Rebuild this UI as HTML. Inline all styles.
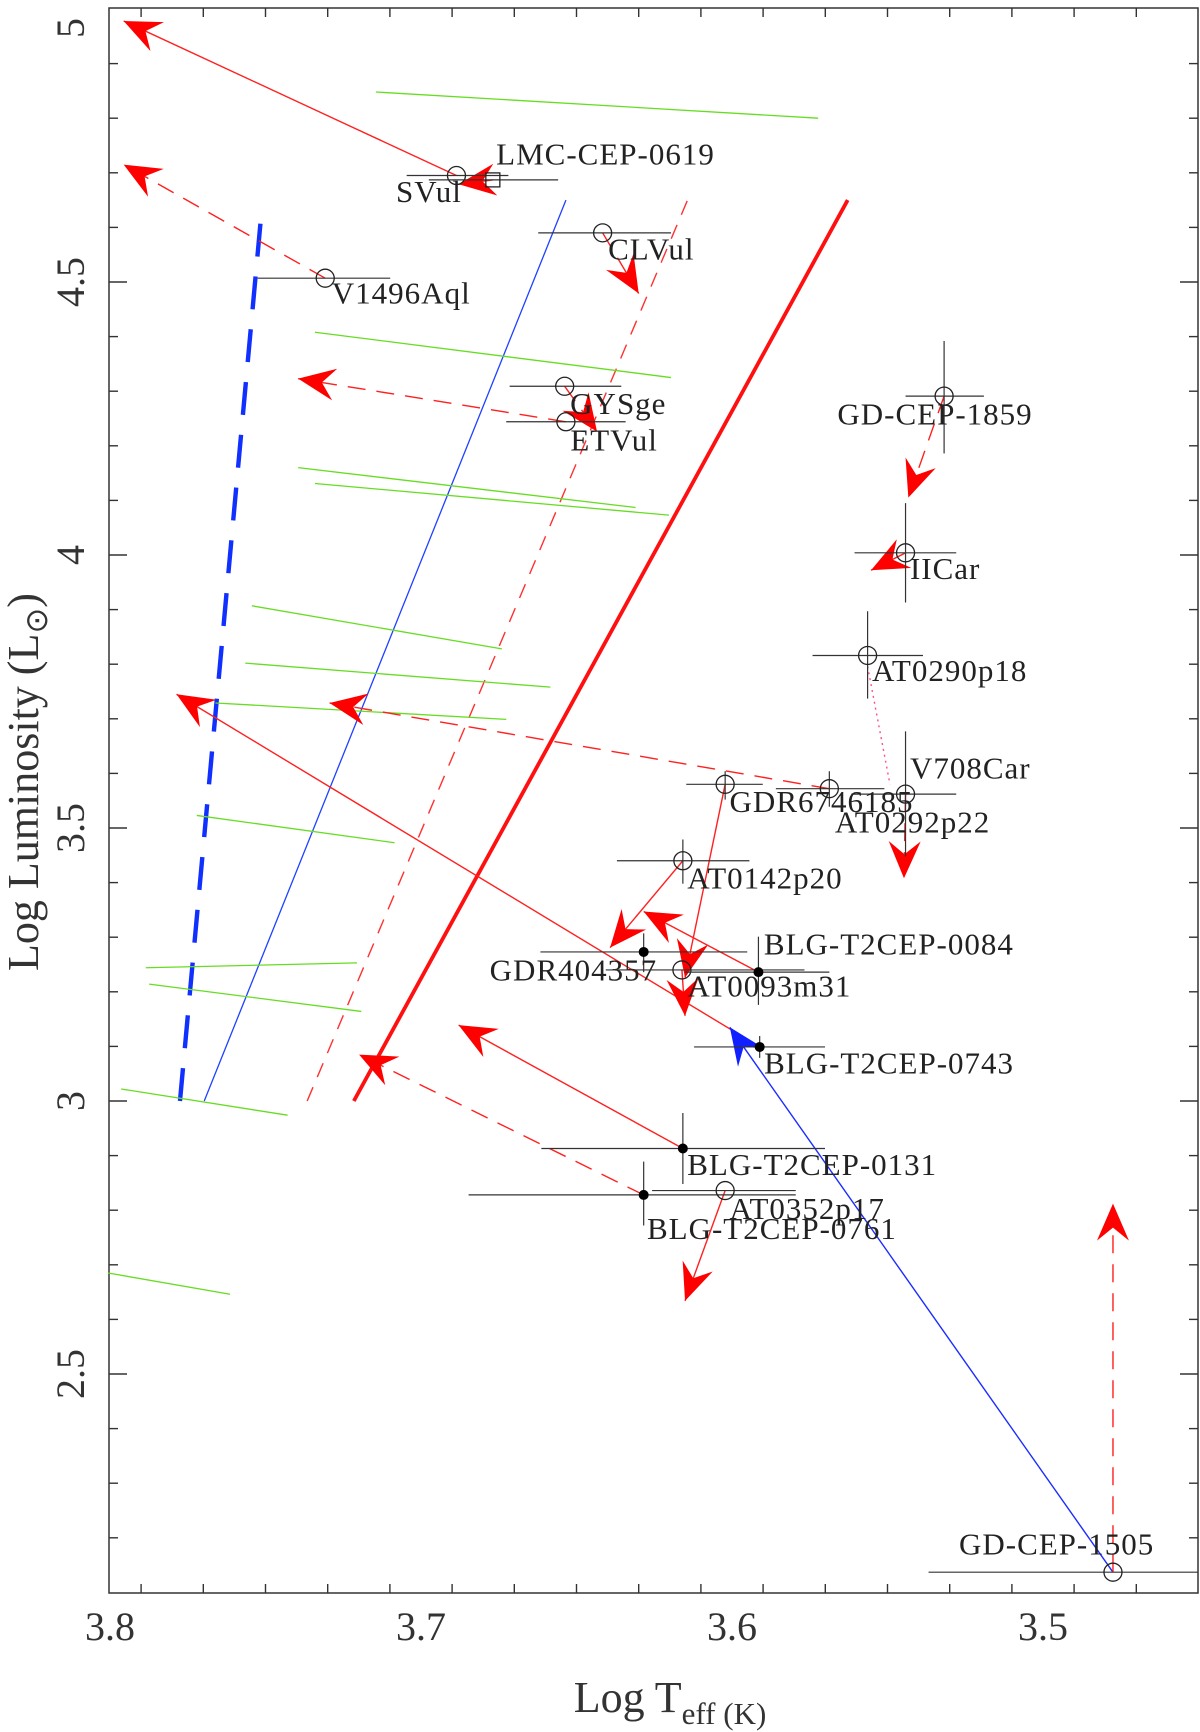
<!DOCTYPE html>
<html><head><meta charset="utf-8">
<style>
html,body{margin:0;padding:0;background:#fff;}
svg{display:block;font-family:"Liberation Serif",serif;}
.lab{font-family:"Liberation Serif",serif;font-size:31px;letter-spacing:1px;fill:#222;}
</style></head>
<body>
<svg id="chart" width="1200" height="1732" viewBox="0 0 1200 1732" xmlns="http://www.w3.org/2000/svg">
<rect x="109" y="8" width="1089" height="1585" fill="#fff" stroke="#333" stroke-width="1.5"/>
<g id="g-marks"></g><g id="g-axes"></g>
<text x="670" y="1712" font-size="44" text-anchor="middle" fill="#333">Log T<tspan dy="12" font-size="31">eff (K)</tspan></text>
<text transform="translate(38,782) rotate(-90)" font-size="44" text-anchor="middle" fill="#333">Log Luminosity (L<tspan font-size="31" dy="9">⊙</tspan><tspan dy="-9">)</tspan></text>
</svg>
<script>
const NS = "http://www.w3.org/2000/svg";
const xTicks = [3.8, 3.7, 3.6, 3.5];
const yTicks = [2.5, 3, 3.5, 4, 4.5, 5];
const xTickLabels = ["3.8", "3.7", "3.6", "3.5"];
const yTickLabels = ["2.5", "3", "3.5", "4", "4.5", "5"];
function X(t){ return 110 + (3.8 - t) * 3110; }
function Y(l){ return 555 + (4 - l) * 546; }
const pL = 109, pR = 1198, pT = 8, pB = 1593;
const K = 1.1;

const stripLines = [
 [3.7775,3.0,3.7511,4.640],
 [3.7697,3.0,3.6534,4.650],
 [3.7366,3.0,3.6143,4.650],
 [3.7216,3.0,3.5628,4.650]];
const stripStyles = [["#1030ff",4.4,"33,20"],["#2040ff",1.3,"none"],["#ff3030",1.4,"15,11"],["#ff1010",3.8,"none"]];
const greenTracks = [
 [3.7145,4.848,3.5723,4.800],[3.7341,4.408,3.6196,4.325],[3.7395,4.160,3.6310,4.087],
 [3.7341,4.131,3.6203,4.073],[3.7544,3.907,3.6740,3.828],[3.7565,3.802,3.6584,3.758],
 [3.7661,3.729,3.6726,3.699],[3.7721,3.523,3.7085,3.473],[3.7885,3.244,3.7206,3.253],
 [3.7874,3.214,3.7192,3.164],[3.7964,3.022,3.7429,2.974],[3.8006,2.685,3.7614,2.646]];
const starNames = ["SVul","LMC-CEP-0619","CLVul","V1496Aql","GYSge","ETVul","GD-CEP-1859","IICar","AT0290p18","V708Car","GDR6746185","AT0292p22","AT0142p20","GDR404357","AT0093m31","BLG-T2CEP-0084","BLG-T2CEP-0743","BLG-T2CEP-0131","BLG-T2CEP-0761","AT0352p17","GD-CEP-1505"];
const starT = [3.6886,3.6769,3.6416,3.7308,3.6538,3.6534,3.5318,3.5442,3.5564,3.5442,3.6022,3.5687,3.6158,3.6284,3.6161,3.5915,3.5911,3.6158,3.6284,3.6022,3.4775];
const starL = [4.695,4.687,4.590,4.507,4.309,4.244,4.291,4.004,3.816,3.562,3.580,3.572,3.440,3.273,3.240,3.236,3.099,2.913,2.828,2.836,2.137];
const starTlo = [3.7046,3.6975,3.6623,3.7525,3.6715,3.6726,3.5442,3.5606,3.5741,3.5616,3.6147,3.5859,3.6370,3.6616,3.6406,3.6151,3.6122,3.6613,3.6847,3.6257,3.5368];
const starThi = [3.6719,3.6559,3.6196,3.7099,3.6356,3.6342,3.5190,3.5279,3.5386,3.5279,3.5901,3.5510,3.5944,3.5951,3.5767,3.5687,3.5701,3.5701,3.5795,3.5795,3.4502];
const starLlo = [4.695,4.687,4.590,4.507,4.309,4.244,4.186,3.913,3.737,3.448,3.552,3.539,3.398,3.236,3.240,3.176,3.079,2.848,2.772,2.836,2.137];
const starLhi = [4.695,4.687,4.590,4.507,4.309,4.244,4.392,4.095,3.897,3.677,3.604,3.604,3.479,3.307,3.240,3.301,3.119,2.978,2.889,2.836,2.137];
const starMarker = ["o","s","o","o","o","o","o","o","o","o","o","o","o","f","o","f","f","f","f","o","o"];
const labelDx = [-55,3,5,6,5,4,-97,4,4,4,4,5,4,-140,5,5,4,4,3,4,-140];
const labelDy = [24,-14,24,23,25,26,26,24,23,-14,25,40,25,26,24,-16,24,24,40,26,-16];
const arrowFrom = [0,1,3,2,5,4,6,7,9,11,10,12,15,16,14,17,18,19,20,20];
const arrowToT = [3.7956,3.6879,3.7956,3.6300,3.7395,3.6434,3.5433,3.5553,3.5447,3.7294,3.6151,3.6392,3.6284,3.7786,3.6151,3.6879,3.7199,3.6151,3.6007,3.4775];
const arrowToL = [4.978,4.679,4.715,4.479,4.323,4.226,4.105,3.972,3.408,3.729,3.226,3.281,3.347,3.745,3.156,3.139,3.085,2.634,3.135,2.812];
const arrowStyle = ["s","s","d","d","d","d","d","s","d","d","s","s","s","s","s","s","d","s","b","d"];

function el(tag, attrs, parent){ const e=document.createElementNS(NS,tag); for(const k in attrs) e.setAttribute(k,attrs[k]); parent.appendChild(e); return e; }
const gM = document.getElementById('g-marks'), gA = document.getElementById('g-axes');

stripLines.forEach((s,i)=>{
  const st = stripStyles[i];
  const e = el('line',{x1:X(s[0]),y1:Y(s[1]),x2:X(s[2]),y2:Y(s[3]),stroke:st[0],'stroke-width':st[1],'stroke-dasharray':st[2]},gM);
  
  
});
greenTracks.forEach(s=>{
  const e = el('line',{x1:X(s[0]),y1:Y(s[1]),x2:X(s[2]),y2:Y(s[3]),stroke:'#66dd22','stroke-width':1.3},gM);
  
  
});
{ const e = el('line',{x1:X(starT[8]),y1:Y(starL[8]-0.02),x2:X(3.5492),y2:Y(3.58),stroke:'#ff5080','stroke-width':1.4,'stroke-dasharray':'2,4'},gM);
  
   }

arrowFrom.forEach((fi,i)=>{
  const x1=X(starT[fi]), y1=Y(starL[fi]), x2=X(arrowToT[i]), y2=Y(arrowToL[i]);
  const col = arrowStyle[i]==='b' ? '#1a2cff' : '#ff2020';
  const e = el('line',{x1:x1,y1:y1,x2:x2,y2:y2,stroke:col,'stroke-width':1.4,'stroke-dasharray':arrowStyle[i]==='d'?'18,11':'none'},gM);
  
  
  const a=Math.atan2(y2-y1,x2-x1), Ln=37, W=16, N=24;
  const ux=Math.cos(a), uy=Math.sin(a);
  const bx=x2-ux*Ln, by=y2-uy*Ln;
  const pts=[[x2,y2],[bx-uy*W,by+ux*W],[x2-ux*N,y2-uy*N],[bx+uy*W,by-ux*W]];
  const h = el('polygon',{points:pts.map(p=>p.join(',')).join(' '),fill:arrowStyle[i]==='b'?'#1020ff':'#ff0000'},gM);
  
  
});

starNames.forEach((n,i)=>{
  const cx=X(starT[i]), cy=Y(starL[i]);
  const g = el('g',{},gM);
  
  
  el('line',{x1:X(starTlo[i]),y1:cy,x2:Math.min(X(starThi[i]),pR),y2:cy,stroke:'#333','stroke-width':1.2},g);
  el('line',{x1:cx,y1:Y(starLlo[i]),x2:cx,y2:Y(starLhi[i]),stroke:'#333','stroke-width':1.2},g);
  if(starMarker[i]==='o') el('circle',{cx:cx,cy:cy,r:9,fill:'none',stroke:'#222','stroke-width':1.3},g);
  else if(starMarker[i]==='s') el('rect',{x:cx-7,y:cy-7,width:14,height:14,fill:'none',stroke:'#222','stroke-width':1.3},g);
  else el('circle',{cx:cx,cy:cy,r:5,fill:'#000'},g);
  const t = el('text',{x:cx+labelDx[i]*K,y:cy+labelDy[i]*K,'class':'lab'},g);
  t.textContent=n;
});

function tick(x1,y1,x2,y2){ el('line',{x1:x1,y1:y1,x2:x2,y2:y2,stroke:'#333','stroke-width':1.4},gA); }
for(let k=345;k<=380;k+=2){ const t=k/100; const x=X(t); if(x<pL||x>pR) continue;
  const major = k%10===0; const len = major?18:9;
  tick(x,pB,x,pB-len); tick(x,pT,x,pT+len); }
for(let k=22;k<=49;k++){ const l=k/10; const y=Y(l); if(y<pT-1||y>pB) continue;
  const major = k%5===0; const len = major?18:9;
  tick(pL,y,pL+len,y); tick(pR,y,pR-len,y); }
xTicks.forEach((t,i)=>{ const e=el('text',{x:X(t),y:1640,'font-size':40,'text-anchor':'middle',fill:'#333'},gA); e.textContent=xTickLabels[i];
    });
yTicks.forEach((l,i)=>{ const y=Y(l); const e=el('text',{transform:'translate(84,'+Math.max(y,pT+20)+') rotate(-90)','font-size':40,'text-anchor':'middle',fill:'#333'},gA); e.textContent=yTickLabels[i];
    });
</script>
</body></html>
